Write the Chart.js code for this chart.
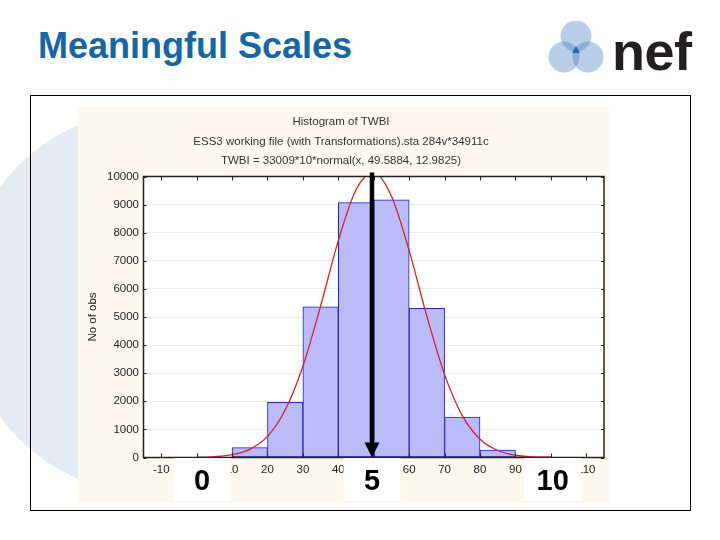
<!DOCTYPE html>
<html>
<head>
<meta charset="utf-8">
<title>Meaningful Scales</title>
<script src="https://cdn.jsdelivr.net/npm/chart.js@4.4.1/dist/chart.umd.min.js"></script>
<style>
    body {
        margin: 0;
        width: 720px;
        height: 540px;
        background: #fff;
        position: relative;
        overflow: hidden;
        font-family: Arial, "Liberation Sans", sans-serif;
    }
    .blob {
        position: absolute;
        left: -38px;
        top: 109px;
        width: 386px;
        height: 386px;
        border-radius: 50%;
        background: #e5ebf4;
    }
    .slide-title {
        position: absolute;
        left: 38px;
        top: 28px;
        font-size: 36px;
        line-height: 36px;
        font-weight: bold;
        color: #1666a3;
        white-space: nowrap;
    }
    .logo { position: absolute; left: 545px; top: 15px; }
    .nef {
        position: absolute;
        left: 612px;
        top: 24px;
        font-size: 54px;
        line-height: 54px;
        font-weight: bold;
        color: #231f20;
        letter-spacing: -0.5px;
    }
    .frame {
        position: absolute;
        left: 30px;
        top: 95px;
        width: 659px;
        height: 414px;
        border: 1px solid #000;
    }
    #wrap {
        position: absolute;
        left: 78px;
        top: 107px;
        width: 531px;
        height: 396px;
        background: #fdf9ef;
    }
</style>
</head>
<body>
<div class="blob"></div>
<div class="frame"></div>
<div class="slide-title">Meaningful Scales</div>
<svg class="logo" width="70" height="70" viewBox="0 0 70 70">
    <circle cx="31" cy="21" r="15.5" fill="rgba(60,120,190,0.36)"/>
    <circle cx="19" cy="42" r="15.5" fill="rgba(60,120,190,0.36)"/>
    <circle cx="43" cy="42" r="15.5" fill="rgba(60,120,190,0.36)"/>
    <path d="M31 31 L27 38 L35 38 Z" fill="#2563a8"/>
</svg>
<div class="nef">nef</div>
<div id="wrap"><canvas id="hist" width="531" height="396"></canvas></div>

<script>
// Histogram bins (centre of each 10-wide class) and counts
const binCentres = [5, 15, 25, 35, 45, 55, 65, 75, 85, 95];
const binCounts = [15, 350, 1960, 5360, 9070, 9170, 5310, 1440, 260, 30];

// Fitted normal curve
const curveX = [0, 5, 10, 15, 20, 25, 30, 35, 40, 45, 50, 55, 60, 65, 70, 75, 80, 85, 90, 95, 100];
const curveY = [5, 30, 100, 290, 750, 1690, 3250, 5390, 7720, 9530, 10140, 9300, 7360, 5020, 2950, 1490, 650, 250, 80, 20, 5];

// Axis ticks
const xTickValues = [-10, 0, 10, 20, 30, 40, 50, 60, 70, 80, 90, 100, 110];

const titleLines = [
    'Histogram of TWBI',
    'ESS3 working file (with Transformations).sta 284v*34911c',
    'TWBI = 33009*10*normal(x, 49.5884, 12.9825)',
];
const yTitle = 'No of obs';

// Overlaid 0-5-10 scale labels and the arrow at the mean
const scaleMarks = ['0', '5', '10'];
const scaleMarkAt = [1.5, 49.5, 100.5];
const meanAt = 49.5;

Chart.defaults.font.family = 'Arial, "Liberation Sans", sans-serif';
Chart.defaults.color = '#1e1e1e';

/**
 * Statistica-style plot frame: white plot background, inward ticks,
 * box border, the black arrow and the white 0 / 5 / 10 labels.
 */
const statisticaFrame = {
    id: 'statisticaFrame',
    beforeDraw(chart) {
        const { ctx, chartArea: a } = chart;
        ctx.save();
        ctx.fillStyle = '#fff';
        ctx.fillRect(a.left, a.top, a.right - a.left, a.bottom - a.top);
        ctx.restore();
    },
    afterDatasetsDraw(chart) {
        const { ctx, chartArea: a, scales: { x, y } } = chart;
        ctx.save();
        ctx.strokeStyle = '#222';
        ctx.lineWidth = 1;
        x.ticks.forEach((t) => {
            const px = Math.round(x.getPixelForValue(t.value)) + 0.5;
            ctx.beginPath();
            ctx.moveTo(px, a.top);
            ctx.lineTo(px, a.top + 4);
            ctx.moveTo(px, a.bottom);
            ctx.lineTo(px, a.bottom - 4);
            ctx.stroke();
        });
        y.ticks.forEach((t) => {
            const py = Math.round(y.getPixelForValue(t.value)) + 0.5;
            ctx.beginPath();
            ctx.moveTo(a.left, py);
            ctx.lineTo(a.left + 3, py);
            ctx.moveTo(a.right, py);
            ctx.lineTo(a.right - 3, py);
            ctx.stroke();
        });
        ctx.lineWidth = 1.5;
        ctx.strokeRect(a.left, a.top, a.right - a.left, a.bottom - a.top);

        // arrow at the mean
        const mx = x.getPixelForValue(meanAt);
        ctx.fillStyle = '#000';
        ctx.fillRect(mx - 2.25, a.top - 4, 4.5, a.bottom - a.top - 8);
        ctx.beginPath();
        ctx.moveTo(mx - 7.5, a.bottom - 15);
        ctx.lineTo(mx + 7.5, a.bottom - 15);
        ctx.lineTo(mx, a.bottom);
        ctx.closePath();
        ctx.fill();
        ctx.restore();
    },
    afterDraw(chart) {
        const { ctx, chartArea: a, scales: { x } } = chart;
        ctx.save();
        ctx.font = 'bold 29px Arial, "Liberation Sans", sans-serif';
        ctx.textAlign = 'center';
        ctx.textBaseline = 'middle';
        scaleMarks.forEach((label, i) => {
            const cx = x.getPixelForValue(scaleMarkAt[i]);
            ctx.fillStyle = '#fff';
            ctx.fillRect(cx - 28.5, a.bottom + 0.5, 57, 43);
            ctx.fillStyle = '#000';
            ctx.fillText(label, cx, a.bottom + 24);
        });
        ctx.restore();
    },
};

new Chart(document.getElementById('hist').getContext('2d'), {
    type: 'bar',
    data: {
        datasets: [
            {
                type: 'line',
                data: curveX.map((v, i) => ({ x: v, y: curveY[i] })),
                borderColor: '#d42525',
                borderWidth: 1.3,
                pointRadius: 0,
                cubicInterpolationMode: 'monotone',
                clip: 0,
                order: 0,
            },
            {
                data: binCentres.map((v, i) => ({ x: v, y: binCounts[i] })),
                backgroundColor: '#bbbbf9',
                borderColor: '#2020c4',
                borderWidth: 1,
                borderSkipped: false,
                barPercentage: 1,
                categoryPercentage: 1,
                order: 1,
            },
        ],
    },
    options: {
        responsive: false,
        animation: false,
        events: [],
        layout: { padding: { left: 0, right: 5, top: 0, bottom: 0 } },
        scales: {
            x: {
                type: 'linear',
                min: -15,
                max: 115,
                offset: false,
                grid: { display: false, drawTicks: false, offset: false },
                border: { display: false },
                ticks: {
                    autoSkip: false,
                    padding: 5,
                    maxRotation: 0,
                    font: { size: 11.5 },
                },
                afterBuildTicks(scale) {
                    scale.ticks = xTickValues.map((v) => ({ value: v }));
                },
                afterFit(scale) {
                    scale.height = 45.5;
                },
            },
            y: {
                min: 0,
                max: 10000,
                grid: { color: '#ececec', drawTicks: false },
                border: { display: false },
                ticks: {
                    stepSize: 1000,
                    padding: 4.5,
                    font: { size: 11.5 },
                    callback: (value) => String(value),
                },
                title: {
                    display: true,
                    text: yTitle,
                    font: { size: 11.5 },
                    padding: { top: 8, bottom: 0 },
                },
                afterFit(scale) {
                    scale.width = 65.5;
                },
            },
        },
        plugins: {
            legend: { display: false },
            tooltip: { enabled: false },
            title: {
                display: true,
                text: titleLines,
                color: '#333',
                font: { size: 11.5, weight: 'normal', lineHeight: 1.7 },
                padding: { top: 5.2, bottom: 5.65 },
            },
        },
    },
    plugins: [statisticaFrame],
});
</script>
</body>
</html>
